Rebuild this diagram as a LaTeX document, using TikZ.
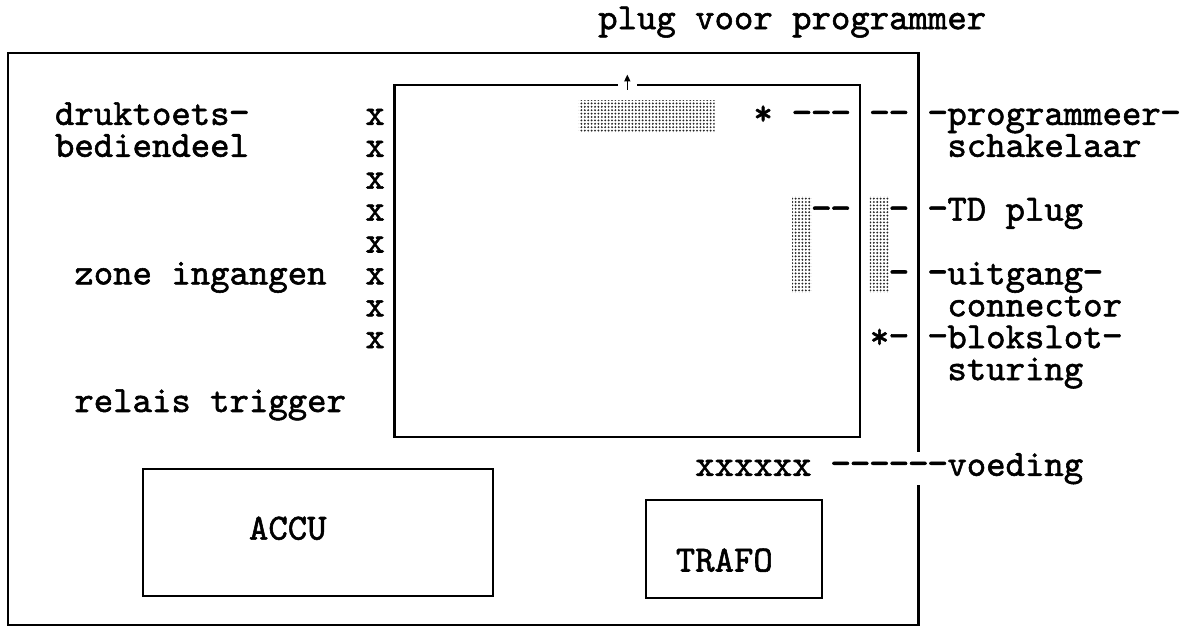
\documentclass[tikz,border=0pt]{standalone}
\usepackage{fontspec}
\usepackage{graphicx}
\usetikzlibrary{arrows.meta,positioning,patterns.meta}
\newfontfamily\twfont{lmmono10-regular.otf}[FakeBold=1.5]
% typewriter dash, one cell wide
\newcommand{\dsh}{\makebox[0.525em]{\scalebox{1.08}[1.1]{-}}}

\begin{document}
\begin{tikzpicture}[
    x=19.4pt, y=-31.9pt, shift={(928pt,-93pt)},
    font=\fontsize{36.95}{40}\selectfont\twfont,
    txt/.style={anchor=base west, inner sep=0pt, outer sep=0pt},
    edge/.style={line width=2.6pt},
    dots/.style={pattern={Dots[distance=3.4pt, radius=1.05pt]}, pattern color=black!85},
    tip/.style={-{Triangle[length=7pt, width=6pt]}, line width=1.6pt},
  ]
  \useasboundingbox (-47.835,-2.915) rectangle (13.247,16.740);
  \fill[white] (-47.835,-2.915) rectangle (13.247,16.740);

  % housing, open on the right where the supply line passes
  \draw[edge] (-0.5,11.25) -- (-0.5,-1.25) -- (-47.42,-1.25) -- (-47.42,16.68)
    -- (-0.5,16.68) -- (-0.5,12.29);
  % main board, gap in the top edge for the plug
  \draw[edge] (-16,-0.25) -- (-27.5,-0.25) -- (-27.5,10.78) -- (-3.5,10.78)
    -- (-3.5,-0.25) -- (-15,-0.25);
  \coordinate (plugfoot) at (-15.5,-0.1);
  \coordinate (plughead) at (-15.5,-0.58);
  \draw[tip] (plugfoot) -- (plughead);

  % shaded parts on the board
  \fill[dots] (-18,0.25) rectangle (-11,1.25);
  \fill[dots] (-7,3.25) rectangle (-6,6.25);
  \fill[dots] (-3,3.25) rectangle (-2,6.25);

  % left side
  \node[txt] (dt1) at (-45,1) {druktoets\dsh};
  \node[txt] (dt2) at (-45,2) {bediendeel};
  \node[txt] (zone) at (-44,6) {zone ingangen};
  \node[txt] (relais) at (-44,10) {relais trigger};
  \foreach \r in {1,...,8}
    \node[txt] (in\r) at (-29,\r) {x};

  % right side
  \node[txt] (plug) at (-17,-2) {plug voor programmer};
  \node[txt] (pstar) at (-9,1) {* \dsh\dsh\dsh};
  \node[txt] (pdash) at (-3,1) {\dsh\dsh};
  \node[txt] (prog1) at (0,1) {\dsh programmeer\dsh};
  \node[txt] (prog2) at (1,2) {schakelaar};
  \node[txt] (tda) at (-6,4) {\dsh\dsh};
  \node[txt] (tdb) at (-2,4) {\dsh};
  \node[txt] (td) at (0,4) {\dsh TD plug};
  \node[txt] (uitb) at (-2,6) {\dsh};
  \node[txt] (uit1) at (0,6) {\dsh uitgang\dsh};
  \node[txt] (uit2) at (1,7) {connector};
  \node[txt] (blkstar) at (-3,8) {*\dsh};
  \node[txt] (blk1) at (0,8) {\dsh blokslot\dsh};
  \node[txt] (blk2) at (1,9) {sturing};
  \node[txt] (voed) at (-12,12) {xxxxxx \dsh\dsh\dsh\dsh\dsh\dsh voeding};

  % accu and transformer
  \draw[edge] (-40.46,11.79) rectangle (-22.42,15.77);
  \node[txt] (accu) at (-35,14) {ACCU};
  \draw[edge] (-14.54,12.76) rectangle (-5.46,15.83);
  \node[txt] (trafo) at (-13,15) {TRAFO};
\end{tikzpicture}
\end{document}
